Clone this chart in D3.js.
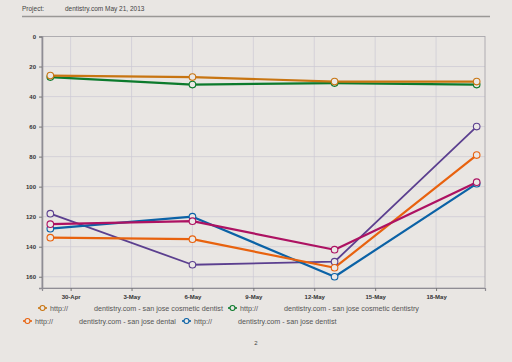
<!DOCTYPE html>
<html>
<head>
<meta charset="utf-8">
<script src="https://cdn.jsdelivr.net/npm/d3@7"></script>
<style>
  body { margin: 0; background: #e9e6e3; }
  svg { display: block; font-family: "Liberation Sans", Arial, sans-serif; }
</style>
</head>
<body>
<svg width="512" height="362"></svg>
<script>
const dates = ['2013-04-29', '2013-05-06', '2013-05-13', '2013-05-20'];
const seriesNames = [
    'dentistry.com - san jose cosmetic dentist',
    'dentistry.com - san jose cosmetic dentistry',
    'dentistry.com - san jose dental',
    'dentistry.com - san jose dentist',
    'purple',
    'magenta'
];
const cosmeticDentist = [26, 27, 30, 30];
const cosmeticDentistry = [27, 32, 31, 32];
const dental = [134, 135, 154, 79];
const dentist = [128, 120, 160, 98];
const purpleSeries = [118, 152, 150, 60];
const magentaSeries = [125, 123, 142, 97];
const yTicks = [0, 20, 40, 60, 80, 100, 120, 140, 160];
const xTickDates = ['2013-04-30', '2013-05-03', '2013-05-06', '2013-05-09', '2013-05-12', '2013-05-15', '2013-05-18'];

const colors = ['#c87511', '#0c7a2c', '#e8620e', '#0b62a6', '#5b3f8f', '#ad1262'];
const allValues = [cosmeticDentist, cosmeticDentistry, dental, dentist, purpleSeries, magentaSeries];
// draw order: back to front
const drawOrder = [4, 3, 2, 5, 1, 0];

const parse = d3.timeParse('%Y-%m-%d');
const fmt = d3.timeFormat('%-d-%b');
const svg = d3.select('svg');

const margin = { top: 36.5, left: 42, right: 27, bottom: 74 };
const width = 512, height = 362;
const innerW = width - margin.left - margin.right;
const innerH = height - margin.top - margin.bottom;

const day = 24 * 3600 * 1000;
const x = d3.scaleTime()
    .domain([new Date(+parse(dates[0]) - 0.41 * day), new Date(+parse(dates[3]) + 0.41 * day)])
    .range([0, innerW]);
const y = d3.scaleLinear().domain([0, 167.5]).range([0, innerH]);

// header
svg.append('text').attr('x', 22).attr('y', 11).attr('font-size', 6.5).attr('fill', '#444').text('Project:');
svg.append('text').attr('x', 65).attr('y', 11).attr('font-size', 6.5).attr('fill', '#444').text('dentistry.com   May 21, 2013');
svg.append('line').attr('x1', 22).attr('x2', 490).attr('y1', 16.5).attr('y2', 16.5)
    .attr('stroke', '#9a9896').attr('stroke-width', 1.6);

const g = svg.append('g').attr('transform', `translate(${margin.left},${margin.top})`);

// grid
g.selectAll('.hgrid').data(yTicks.slice(1)).enter().append('line')
    .attr('x1', 0).attr('x2', innerW).attr('y1', d => y(d)).attr('y2', d => y(d))
    .attr('stroke', '#ccc9d4').attr('stroke-width', 0.7);
g.selectAll('.vgrid').data(xTickDates).enter().append('line')
    .attr('y1', 0).attr('y2', innerH).attr('x1', d => x(parse(d))).attr('x2', d => x(parse(d)))
    .attr('stroke', '#ccc9d4').attr('stroke-width', 0.7);

// frame
g.append('rect').attr('width', innerW).attr('height', innerH)
    .attr('fill', 'none').attr('stroke', '#a9a7ac').attr('stroke-width', 0.9);

// axes
const yAxis = g.append('g').call(d3.axisLeft(y).tickValues(yTicks).tickSize(3).tickPadding(3));
yAxis.select('.domain').attr('stroke', '#8f8d94').attr('stroke-width', 1.6);
yAxis.selectAll('.tick line').attr('stroke', '#777');
yAxis.selectAll('text').attr('font-size', 6).attr('font-weight', 'bold').attr('fill', '#333')
    .style('font-family', '"Liberation Sans", Arial, sans-serif');

const xAxis = g.append('g').attr('transform', `translate(0,${innerH})`)
    .call(d3.axisBottom(x).tickValues(xTickDates.map(parse)).tickFormat(fmt).tickSize(3).tickPadding(4));
xAxis.select('.domain').attr('stroke', '#8f8d94').attr('stroke-width', 1.2);
xAxis.selectAll('.tick line').attr('stroke', '#777');
xAxis.selectAll('text').attr('font-size', 6).attr('font-weight', 'bold').attr('fill', '#333')
    .style('font-family', '"Liberation Sans", Arial, sans-serif');

// lines
const line = d3.line().x((d, i) => x(parse(dates[i]))).y(d => y(d));
drawOrder.forEach(s => {
    g.append('path').datum(allValues[s]).attr('d', line)
        .attr('fill', 'none').attr('stroke', colors[s])
        .attr('stroke-width', s === 4 ? 1.8 : 2.2).attr('stroke-linejoin', 'round');
});
drawOrder.forEach(s => {
    g.selectAll(null).data(allValues[s]).enter().append('circle')
        .attr('cx', (d, i) => x(parse(dates[i]))).attr('cy', d => y(d)).attr('r', 3.3)
        .attr('fill', '#ebe8e6').attr('stroke', colors[s]).attr('stroke-width', 1.1);
});

// legend
const legendItems = [
    { s: 0, x: 42, y: 308 },
    { s: 1, x: 232, y: 308 },
    { s: 2, x: 27, y: 321 },
    { s: 3, x: 186, y: 321 }
];
legendItems.forEach(it => {
    const lg = svg.append('g').attr('transform', `translate(${it.x},${it.y})`);
    lg.append('line').attr('x1', -4).attr('x2', 5).attr('y1', 0).attr('y2', 0)
        .attr('stroke', colors[it.s]).attr('stroke-width', 1.6);
    lg.append('circle').attr('cx', 0.5).attr('cy', 0).attr('r', 2.5)
        .attr('fill', '#ebe8e6').attr('stroke', colors[it.s]).attr('stroke-width', 1.1);
    lg.append('text').attr('x', 8).attr('y', 2.5).attr('font-size', 7.2).attr('fill', '#555').text('http://');
    lg.append('text').attr('x', 52).attr('y', 2.5).attr('font-size', 7.2).attr('fill', '#555').text(seriesNames[it.s]);
});

svg.append('text').attr('x', 256).attr('y', 345).attr('text-anchor', 'middle')
    .attr('font-size', 6).attr('fill', '#444').text('2');
</script>
</body>
</html>
